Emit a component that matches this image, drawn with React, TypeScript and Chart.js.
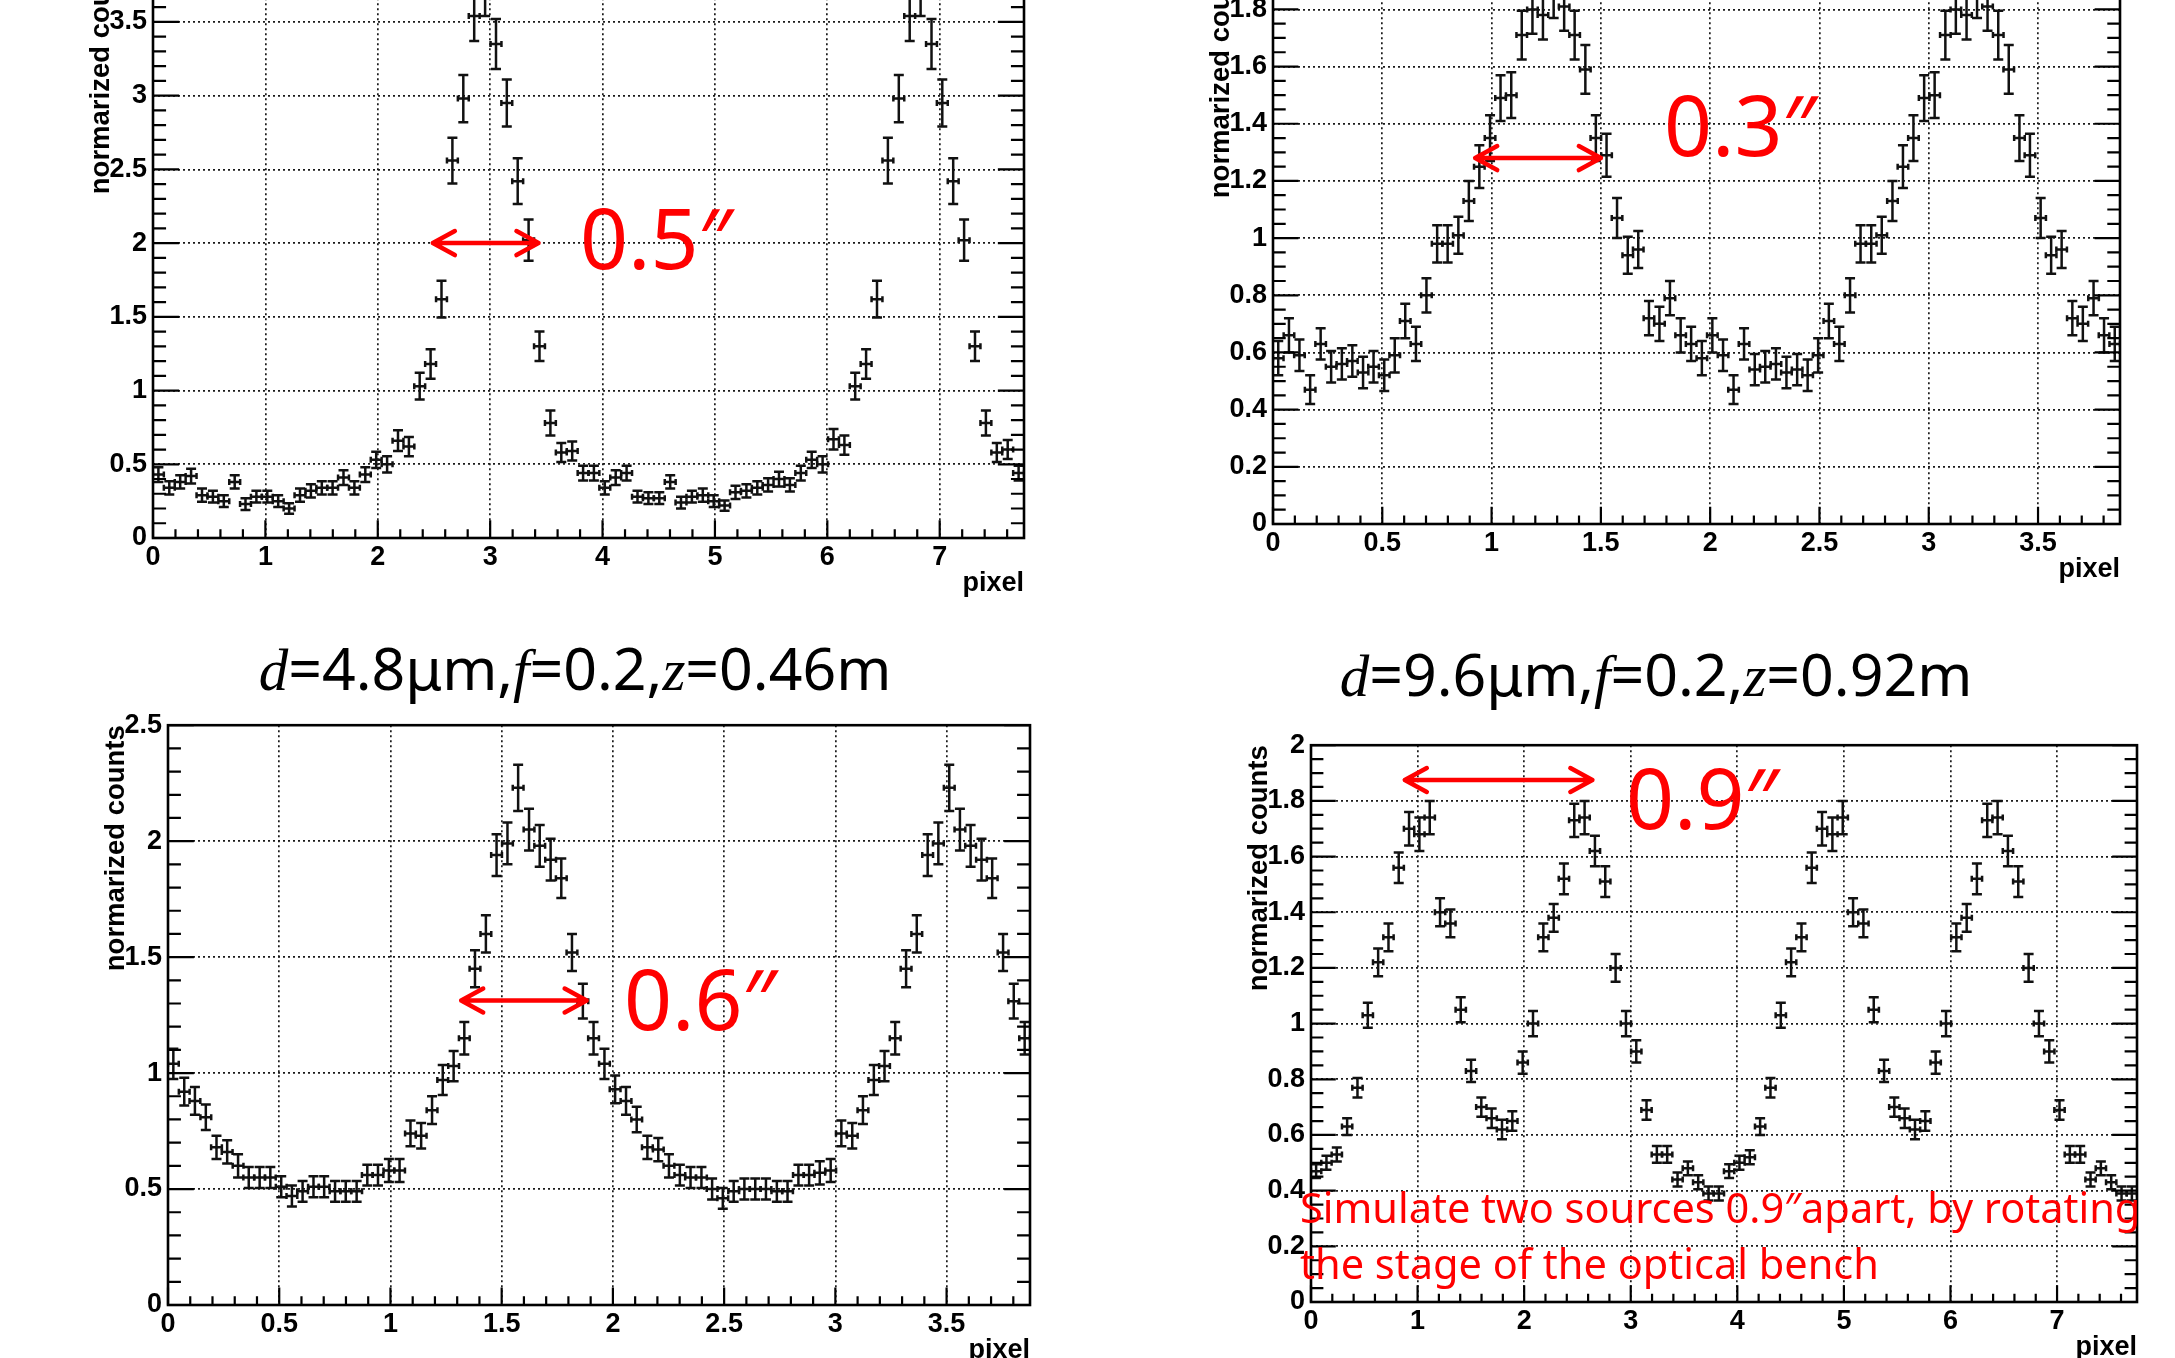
import React, { useEffect, useRef } from 'react';
import { Chart, registerables } from 'chart.js';

Chart.register(...registerables);

// ---------- bin centres (pixel units) ----------
const binsWide = [0.048,0.145,0.242,0.339,0.436,0.533,0.630,0.727,0.823,0.920,1.017,1.114,1.211,1.308,1.405,1.502,1.598,1.695,1.792,1.889,1.986,2.083,2.180,2.277,2.373,2.470,2.567,2.664,2.761,2.858,2.955,3.052,3.148,3.245,3.342,3.439,3.536,3.633,3.730,3.827,3.923,4.020,4.117,4.214,4.311,4.408,4.505,4.602,4.698,4.795,4.892,4.989,5.086,5.183,5.280,5.377,5.473,5.570,5.667,5.764,5.861,5.958,6.055,6.152,6.248,6.345,6.442,6.539,6.636,6.733,6.830,6.927,7.023,7.120,7.217,7.314,7.411,7.508,7.605,7.702];
const binsNarrow = [0.024,0.073,0.121,0.170,0.218,0.266,0.315,0.363,0.412,0.460,0.509,0.557,0.605,0.654,0.702,0.751,0.799,0.848,0.896,0.944,0.993,1.041,1.090,1.138,1.187,1.235,1.284,1.332,1.380,1.429,1.477,1.526,1.574,1.623,1.671,1.720,1.768,1.816,1.865,1.913,1.962,2.010,2.059,2.107,2.155,2.204,2.252,2.301,2.349,2.398,2.446,2.494,2.543,2.591,2.640,2.688,2.737,2.785,2.834,2.882,2.930,2.979,3.027,3.076,3.124,3.173,3.221,3.269,3.318,3.366,3.415,3.463,3.512,3.560,3.608,3.657,3.705,3.754,3.802,3.851];

// ---------- top-left panel ----------
const tlValues = [0.43,0.34,0.38,0.42,0.29,0.28,0.25,0.38,0.23,0.28,0.28,0.25,0.20,0.29,0.32,0.34,0.34,0.41,0.34,0.43,0.53,0.50,0.66,0.62,1.03,1.18,1.62,2.56,2.98,3.54,3.72,3.35,2.95,2.42,2.02,1.30,0.78,0.58,0.59,0.44,0.44,0.34,0.41,0.44,0.28,0.27,0.27,0.38,0.24,0.28,0.29,0.25,0.22,0.31,0.32,0.34,0.36,0.40,0.36,0.44,0.53,0.50,0.67,0.63,1.03,1.18,1.62,2.56,2.98,3.54,3.72,3.35,2.95,2.42,2.02,1.30,0.78,0.58,0.60,0.44];
const tlErrors = [0.05,0.045,0.045,0.05,0.045,0.04,0.04,0.045,0.04,0.04,0.04,0.04,0.035,0.045,0.045,0.045,0.045,0.05,0.045,0.05,0.055,0.055,0.07,0.065,0.09,0.10,0.125,0.155,0.16,0.17,0.18,0.17,0.16,0.155,0.14,0.10,0.085,0.065,0.065,0.05,0.05,0.045,0.05,0.05,0.04,0.04,0.04,0.045,0.04,0.04,0.045,0.04,0.035,0.045,0.045,0.045,0.045,0.05,0.045,0.05,0.055,0.055,0.07,0.065,0.09,0.10,0.125,0.155,0.16,0.17,0.18,0.17,0.16,0.155,0.14,0.10,0.085,0.065,0.065,0.05];

// ---------- top-right panel ----------
const trValues = [0.58,0.66,0.59,0.47,0.63,0.55,0.56,0.57,0.53,0.55,0.52,0.59,0.71,0.63,0.80,0.98,0.98,1.01,1.13,1.25,1.35,1.49,1.50,1.71,1.80,1.78,1.86,1.81,1.71,1.59,1.35,1.29,1.07,0.94,0.96,0.72,0.70,0.79,0.66,0.63,0.58,0.66,0.59,0.47,0.63,0.54,0.55,0.56,0.53,0.54,0.52,0.59,0.71,0.63,0.80,0.98,0.98,1.01,1.13,1.25,1.35,1.49,1.50,1.71,1.80,1.78,1.86,1.81,1.71,1.59,1.35,1.29,1.07,0.94,0.96,0.72,0.70,0.79,0.66,0.63];
const trErrors = [0.06,0.06,0.055,0.05,0.055,0.055,0.055,0.055,0.055,0.055,0.055,0.06,0.06,0.06,0.06,0.065,0.065,0.065,0.07,0.075,0.08,0.08,0.08,0.085,0.085,0.085,0.09,0.085,0.085,0.085,0.08,0.075,0.07,0.065,0.065,0.06,0.06,0.06,0.06,0.06,0.06,0.06,0.055,0.05,0.055,0.055,0.055,0.055,0.055,0.055,0.055,0.06,0.06,0.06,0.06,0.065,0.065,0.065,0.07,0.075,0.08,0.08,0.08,0.085,0.085,0.085,0.09,0.085,0.085,0.085,0.08,0.075,0.07,0.065,0.065,0.06,0.06,0.06,0.06,0.06];

// ---------- bottom-left panel ----------
const blValues = [1.04,0.92,0.88,0.81,0.68,0.66,0.60,0.55,0.55,0.55,0.51,0.47,0.49,0.51,0.51,0.49,0.49,0.49,0.56,0.56,0.58,0.58,0.74,0.73,0.84,0.97,1.03,1.15,1.45,1.60,1.94,1.99,2.23,2.05,1.98,1.92,1.84,1.52,1.31,1.15,1.04,0.93,0.88,0.80,0.68,0.67,0.60,0.56,0.55,0.55,0.50,0.46,0.49,0.50,0.50,0.50,0.49,0.49,0.56,0.56,0.57,0.58,0.74,0.73,0.84,0.97,1.03,1.15,1.45,1.60,1.94,1.99,2.23,2.05,1.98,1.92,1.84,1.52,1.31,1.15];
const blErrors = [0.065,0.06,0.06,0.055,0.05,0.05,0.05,0.045,0.045,0.045,0.045,0.045,0.045,0.045,0.045,0.045,0.045,0.045,0.045,0.045,0.05,0.05,0.055,0.055,0.06,0.065,0.065,0.07,0.08,0.08,0.09,0.09,0.10,0.09,0.09,0.09,0.085,0.08,0.075,0.07,0.065,0.06,0.06,0.055,0.05,0.05,0.05,0.045,0.045,0.045,0.045,0.045,0.045,0.045,0.045,0.045,0.045,0.045,0.045,0.045,0.05,0.05,0.055,0.055,0.06,0.065,0.065,0.07,0.08,0.08,0.09,0.09,0.10,0.09,0.09,0.09,0.085,0.08,0.075,0.07];

// ---------- bottom-right panel ----------
const brValues = [0.47,0.50,0.53,0.63,0.77,1.03,1.22,1.31,1.56,1.70,1.68,1.74,1.40,1.36,1.05,0.83,0.70,0.66,0.62,0.65,0.86,1.00,1.31,1.38,1.52,1.73,1.74,1.62,1.51,1.20,1.00,0.90,0.69,0.53,0.53,0.44,0.48,0.43,0.39,0.39,0.47,0.50,0.52,0.63,0.77,1.03,1.22,1.31,1.56,1.70,1.68,1.74,1.40,1.36,1.05,0.83,0.70,0.66,0.62,0.65,0.86,1.00,1.31,1.38,1.52,1.73,1.74,1.62,1.51,1.20,1.00,0.90,0.69,0.53,0.53,0.44,0.48,0.43,0.39,0.39];
const brErrors = [0.025,0.025,0.025,0.03,0.035,0.045,0.05,0.05,0.055,0.06,0.06,0.06,0.05,0.05,0.045,0.04,0.035,0.035,0.035,0.035,0.04,0.045,0.05,0.05,0.055,0.06,0.06,0.055,0.055,0.05,0.045,0.04,0.035,0.03,0.03,0.025,0.025,0.025,0.025,0.025,0.025,0.025,0.025,0.03,0.035,0.045,0.05,0.05,0.055,0.06,0.06,0.06,0.05,0.05,0.045,0.04,0.035,0.035,0.035,0.035,0.04,0.045,0.05,0.05,0.055,0.06,0.06,0.055,0.055,0.05,0.045,0.04,0.035,0.03,0.03,0.025,0.025,0.025,0.025,0.025];

const xTitle = 'pixel';
const yTitle = 'normarized counts';

// ---------- layout ----------
const PAD = 20;
const YW = 70;
const XH = 62;

const panels = [
  { id: 'tl', xs: binsWide, ys: tlValues, errs: tlErrors, binWidth: 0.096875, xMax: 7.75, yMax: 4, xStep: 1, xMinor: 0.2, yStep: 0.5, yMinor: 0.1,
    box: { L: 153, T: -54, R: 1024, B: 538 }, arrow: { x1: 2.49, x2: 3.43, y: 2.0 } },
  { id: 'tr', xs: binsNarrow, ys: trValues, errs: trErrors, binWidth: 0.0484375, xMax: 3.875, yMax: 2, xStep: 0.5, xMinor: 0.1, yStep: 0.2, yMinor: 0.05,
    box: { L: 1273, T: -50, R: 2120, B: 524 }, arrow: { x1: 0.925, x2: 1.5, y: 1.28 } },
  { id: 'bl', xs: binsNarrow, ys: blValues, errs: blErrors, binWidth: 0.0484375, xMax: 3.875, yMax: 2.5, xStep: 0.5, xMinor: 0.1, yStep: 0.5, yMinor: 0.1,
    box: { L: 168, T: 723, R: 1030, B: 1305 }, arrow: { x1: 1.318, x2: 1.882, y: 1.313 } },
  { id: 'br', xs: binsWide, ys: brValues, errs: brErrors, binWidth: 0.096875, xMax: 7.75, yMax: 2, xStep: 1, xMinor: 0.2, yStep: 0.2, yMinor: 0.05,
    box: { L: 1311, T: 743, R: 2137, B: 1302 }, arrow: { x1: 0.88, x2: 2.64, y: 1.875 } },
];

const fmt = (v: any) => String(Math.round(Number(v) * 100) / 100);

const rootPlugin = {
  id: 'rootStyle',
  afterDatasetsDraw(chart: any) {
    const { ctx, chartArea: a } = chart;
    const xs = chart.scales.x;
    const ys = chart.scales.y;
    ctx.save();
    ctx.beginPath();
    ctx.rect(a.left, a.top, a.right - a.left, a.bottom - a.top);
    ctx.clip();
    ctx.strokeStyle = '#111';
    ctx.lineWidth = 2.5;
    chart.data.datasets.forEach((ds: any) => {
      const hw = ds.binWidth / 2;
      ds.data.forEach((p: any, i: number) => {
        const e = ds.yErr[i];
        const px = xs.getPixelForValue(p.x);
        const py = ys.getPixelForValue(p.y);
        const xl = xs.getPixelForValue(p.x - hw);
        const xr = xs.getPixelForValue(p.x + hw);
        const yt = ys.getPixelForValue(p.y + e);
        const yb = ys.getPixelForValue(p.y - e);
        ctx.beginPath();
        ctx.moveTo(xl, py); ctx.lineTo(xr, py);
        ctx.moveTo(px, yt); ctx.lineTo(px, yb);
        ctx.moveTo(px - 5, yt); ctx.lineTo(px + 5, yt);
        ctx.moveTo(px - 5, yb); ctx.lineTo(px + 5, yb);
        ctx.moveTo(xl, py - 3); ctx.lineTo(xl, py + 3);
        ctx.moveTo(xr, py - 3); ctx.lineTo(xr, py + 3);
        ctx.stroke();
      });
    });
    ctx.restore();
  },
  afterDraw(chart: any, _args: any, opts: any) {
    const { ctx, chartArea: a } = chart;
    const xs = chart.scales.x;
    const ys = chart.scales.y;
    const p = opts.panel;
    const w = a.right - a.left;
    const h = a.bottom - a.top;
    ctx.save();
    ctx.strokeStyle = '#000';
    ctx.lineWidth = 2.2;
    // x ticks (bottom, pointing up)
    const xLen = 0.03 * h;
    const nx = Math.floor(p.xMax / p.xMinor + 1e-6);
    const xPer = Math.round(p.xStep / p.xMinor);
    ctx.beginPath();
    for (let i = 0; i <= nx; i++) {
      const px = xs.getPixelForValue(i * p.xMinor);
      const L = i % xPer === 0 ? xLen : xLen / 2;
      ctx.moveTo(px, a.bottom); ctx.lineTo(px, a.bottom - L);
    }
    // y ticks left and right
    const yLen = 0.03 * w;
    const ny = Math.floor(p.yMax / p.yMinor + 1e-6);
    const yPer = Math.round(p.yStep / p.yMinor);
    for (let i = 0; i <= ny; i++) {
      const py = ys.getPixelForValue(i * p.yMinor);
      const L = i % yPer === 0 ? yLen : yLen / 2;
      ctx.moveTo(a.left, py); ctx.lineTo(a.left + L, py);
      ctx.moveTo(a.right, py); ctx.lineTo(a.right - L, py);
    }
    ctx.stroke();
    // frame
    ctx.lineWidth = 2.6;
    ctx.strokeRect(a.left, a.top, w, h);
    // red arrow
    const ar = p.arrow;
    const x1 = xs.getPixelForValue(ar.x1);
    const x2 = xs.getPixelForValue(ar.x2);
    const y0 = ys.getPixelForValue(ar.y);
    ctx.strokeStyle = '#ff0000';
    ctx.lineWidth = 4.5;
    ctx.lineCap = 'round';
    ctx.lineJoin = 'round';
    ctx.beginPath();
    ctx.moveTo(x1, y0); ctx.lineTo(x2, y0);
    ctx.moveTo(x1 + 22, y0 - 12); ctx.lineTo(x1, y0); ctx.lineTo(x1 + 22, y0 + 12);
    ctx.moveTo(x2 - 22, y0 - 12); ctx.lineTo(x2, y0); ctx.lineTo(x2 - 22, y0 + 12);
    ctx.stroke();
    ctx.restore();
  },
};

function Panel({ p }: { p: any }) {
  const ref = useRef<HTMLCanvasElement>(null);
  const width = p.box.R - p.box.L + YW + 2 * PAD;
  const height = p.box.B - p.box.T + XH + 2 * PAD;
  useEffect(() => {
    const family = '"Liberation Sans", Arial, sans-serif';
    const tickFont = { family, size: 27, weight: 'bold' as const };
    const chart = new Chart(ref.current as HTMLCanvasElement, {
      type: 'scatter',
      data: {
        datasets: [
          {
            data: p.xs.map((x: number, i: number) => ({ x, y: p.ys[i] })),
            yErr: p.errs,
            binWidth: p.binWidth,
            pointRadius: 1.4,
            pointBackgroundColor: '#000',
            pointBorderWidth: 0,
            showLine: false,
          } as any,
        ],
      },
      options: {
        responsive: false,
        maintainAspectRatio: false,
        animation: false,
        layout: { padding: PAD },
        plugins: {
          legend: { display: false },
          tooltip: { enabled: false },
          rootStyle: { panel: p },
        } as any,
        scales: {
          x: {
            type: 'linear',
            min: 0,
            max: p.xMax,
            afterFit: (s: any) => { s.height = XH; },
            ticks: { stepSize: p.xStep, includeBounds: false, padding: 3, font: tickFont, color: '#000', callback: fmt, maxRotation: 0, autoSkip: false },
            grid: { color: '#1a1a1a', lineWidth: 1.7, drawTicks: false },
            border: { display: false, dash: [2, 3] },
            title: { display: true, text: xTitle, align: 'end', color: '#000', font: { family, size: 27, weight: 'bold' }, padding: { top: 0, bottom: 0 } },
          },
          y: {
            type: 'linear',
            min: 0,
            max: p.yMax,
            afterFit: (s: any) => { s.width = YW; },
            ticks: { stepSize: p.yStep, includeBounds: false, padding: 6, font: tickFont, color: '#000', callback: fmt, autoSkip: false },
            grid: { color: '#1a1a1a', lineWidth: 1.7, drawTicks: false },
            border: { display: false, dash: [2, 3] },
            title: { display: true, text: yTitle, align: 'end', color: '#000', font: { family, size: 27.5, weight: 'bold' }, padding: { top: 2, bottom: 0 } },
          },
        },
      } as any,
      plugins: [rootPlugin as any],
    });
    return () => chart.destroy();
  }, []);
  return (
    <canvas
      ref={ref}
      width={width}
      height={height}
      style={{ position: 'absolute', left: p.box.L - YW - PAD, top: p.box.T - PAD, width, height }}
    />
  );
}

const redLabels = [
  { text: '0.5\u2033', left: 580, top: 195 },
  { text: '0.3\u2033', left: 1664, top: 82 },
  { text: '0.6\u2033', left: 624, top: 956 },
  { text: '0.9\u2033', left: 1626, top: 755 },
];

const noteLines = ['Simulate two sources 0.9\u2033apart, by rotating', 'the stage of the optical bench'];

const it = { fontFamily: '"Liberation Serif", serif', fontStyle: 'italic' as const };

export default function App() {
  return (
    <div style={{ position: 'absolute', left: 0, top: 0, width: 2175, height: 1358, overflow: 'hidden', background: '#fff' }}>
      {panels.map((p) => (
        <Panel key={p.id} p={p} />
      ))}
      <div style={{ position: 'absolute', left: 575, top: 638, transform: 'translateX(-50%)', fontFamily: '"Noto Sans", sans-serif', fontSize: 59, lineHeight: 1, whiteSpace: 'nowrap', color: '#000' }}>
        <span style={it}>d</span>=4.8μm,<span style={it}>f</span>=0.2,<span style={it}>z</span>=0.46m
      </div>
      <div style={{ position: 'absolute', left: 1656, top: 644, transform: 'translateX(-50%)', fontFamily: '"Noto Sans", sans-serif', fontSize: 59, lineHeight: 1, whiteSpace: 'nowrap', color: '#000' }}>
        <span style={it}>d</span>=9.6μm,<span style={it}>f</span>=0.2,<span style={it}>z</span>=0.92m
      </div>
      {redLabels.map((r) => (
        <div key={r.text + r.left} style={{ position: 'absolute', left: r.left, top: r.top, fontFamily: '"Noto Sans", sans-serif', fontSize: 84, lineHeight: 1, color: '#ff0000', whiteSpace: 'nowrap' }}>
          {r.text}
        </div>
      ))}
      <div style={{ position: 'absolute', left: 1300, top: 1179, fontFamily: '"Noto Sans", sans-serif', fontSize: 41.5, lineHeight: '56px', color: '#ff0000', whiteSpace: 'nowrap' }}>
        {noteLines.map((l) => (
          <div key={l}>{l}</div>
        ))}
      </div>
    </div>
  );
}
